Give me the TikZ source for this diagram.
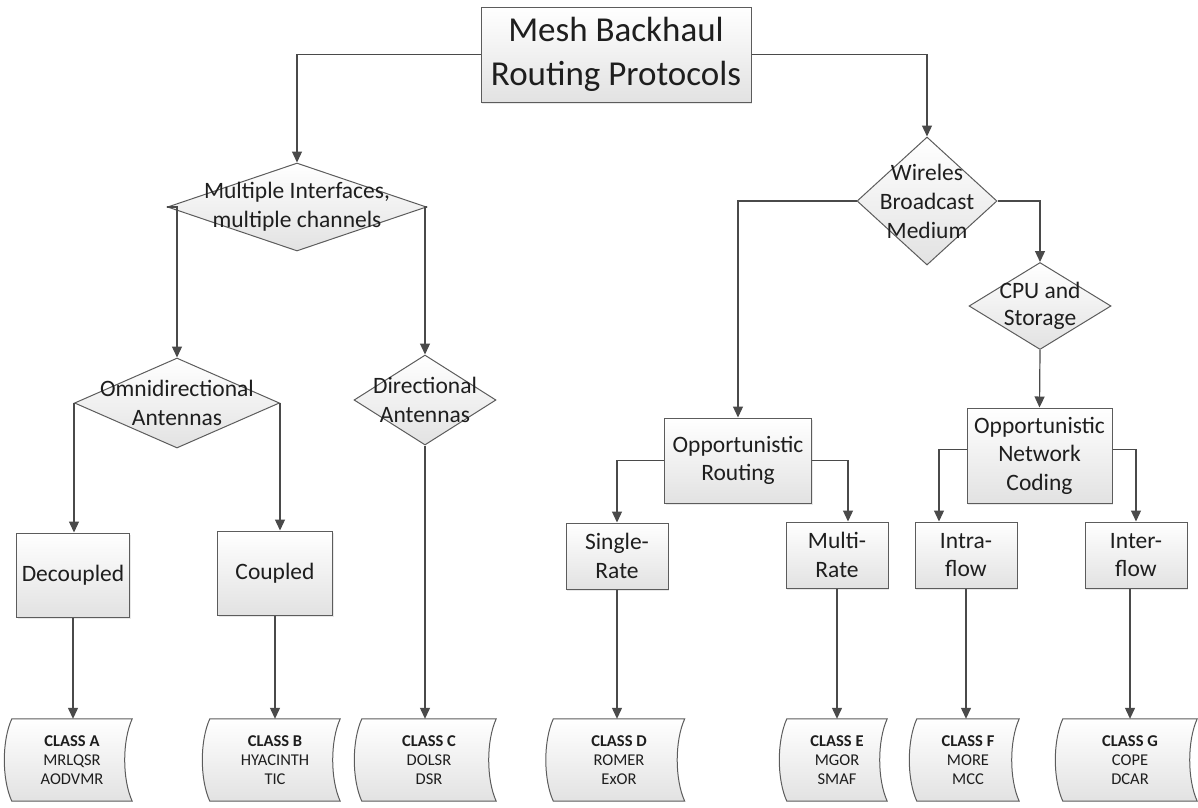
\documentclass[tikz,border=0pt]{standalone}
\usepackage{fontspec}
\setmainfont{Carlito}
\usetikzlibrary{arrows.meta,shapes.geometric,shadows}
\pgfdeclarelayer{background}
\pgfsetlayers{background,main}

\definecolor{edge}{HTML}{5C5C5C}
\definecolor{wire}{HTML}{4A4A4A}
\definecolor{ink}{HTML}{1E1E1E}
\definecolor{shadeb}{HTML}{E2E2E2}

\tikzset{
  base/.style={draw=edge, line width=1pt, top color=white, bottom color=shadeb},
  procbox/.style={base, rectangle, inner sep=0pt, align=center, text=ink,
    font=\fontsize{23.5}{28.5}\selectfont,
    drop shadow={opacity=0.18, shadow xshift=1pt, shadow yshift=-1.5pt}},
  decision/.style={base, diamond, inner sep=0pt},
  dlabel/.style={align=center, inner sep=0pt, text=ink,
    font=\fontsize{23.5}{29}\selectfont},
  store/.style={rectangle, inner sep=0pt, align=center, text=ink,
    minimum height=82pt, font=\fontsize{16.5}{18.7}\selectfont},
  storeline/.style={draw=edge, line width=1pt, top color=white, bottom color=shadeb},
  link/.style={draw=wire, line width=1.2pt, -{Triangle[length=11pt,width=10pt]}},
}

% outline of a "stored data" symbol around a named node
\newcommand\storedoutline[1]{%
  \begin{pgfonlayer}{background}
    \path[storeline] (#1.north west) .. controls +(-10,22) and +(-10,-22) .. (#1.south west)
      -- (#1.south east) .. controls +(-10,-22) and +(-10,22) .. (#1.north east) -- cycle;
  \end{pgfonlayer}}

\begin{document}
\begin{tikzpicture}[x=1pt,y=-1pt]
\useasboundingbox (0,0) rectangle (1198,807);

% root
\node[procbox, minimum width=270pt, minimum height=95pt,
      font=\fontsize{35}{44}\selectfont] (root) at (616,54.5)
      {Mesh Backhaul\\Routing Protocols};

% decisions
\node[decision, minimum width=259pt, minimum height=88pt] (mimc) at (297,207) {};
\node[dlabel] (mimc-t) at (mimc) {Multiple Interfaces,\\multiple channels};

\node[decision, minimum width=140pt, minimum height=128pt] (wbm) at (927,201) {};
\node[dlabel] (wbm-t) at (wbm) {Wireles\\Broadcast\\Medium};

\node[decision, minimum width=205pt, minimum height=90pt] (omni) at (177,403) {};
\node[dlabel] (omni-t) at (omni) {Omnidirectional\\Antennas};

\node[decision, minimum width=142pt, minimum height=90pt] (dir) at (425,400) {};
\node[dlabel] (dir-t) at (dir) {Directional\\Antennas};

\node[decision, minimum width=142pt, minimum height=87pt] (cpu) at (1040,306) {};
\node[dlabel, font=\fontsize{23.5}{27.5}\selectfont] (cpu-t) at (cpu) {CPU and\\Storage};

% process boxes
\node[procbox, minimum width=147pt, minimum height=85pt] (orr) at (738,460.5)
      {Opportunistic\\Routing};
\node[procbox, minimum width=145pt, minimum height=95pt] (onc) at (1039.5,455.5)
      {Opportunistic\\Network\\Coding};

\node[procbox, minimum width=113pt, minimum height=84pt] (dec) at (73,575) {Decoupled};
\node[procbox, minimum width=115pt, minimum height=84pt] (cpl) at (275,573) {Coupled};

\node[procbox, minimum width=102pt, minimum height=66pt] (sr) at (617,556) {Single-\\Rate};
\node[procbox, minimum width=102pt, minimum height=66pt] (mr) at (837,555) {Multi-\\Rate};
\node[procbox, minimum width=102pt, minimum height=66pt] (intra) at (966,555) {Intra-\\flow};
\node[procbox, minimum width=102pt, minimum height=66pt] (inter) at (1136,555) {Inter-\\flow};

% protocol classes
\node[store, minimum width=120pt] (cA) at (72,760)   {\textbf{CLASS A}\\MRLQSR\\AODVMR};
\node[store, minimum width=130pt] (cB) at (275,760)  {\textbf{CLASS B}\\HYACINTH\\TIC};
\node[store, minimum width=134pt] (cC) at (429,760)  {\textbf{CLASS C}\\DOLSR\\DSR};
\node[store, minimum width=131pt] (cD) at (619,760)  {\textbf{CLASS D}\\ROMER\\ExOR};
\node[store, minimum width=100pt] (cE) at (837,760)  {\textbf{CLASS E}\\MGOR\\SMAF};
\node[store, minimum width=102pt] (cF) at (968,760)  {\textbf{CLASS F}\\MORE\\MCC};
\node[store, minimum width=134pt] (cG) at (1130,760) {\textbf{CLASS G}\\COPE\\DCAR};
\storedoutline{cA}
\storedoutline{cB}
\storedoutline{cC}
\storedoutline{cD}
\storedoutline{cE}
\storedoutline{cF}
\storedoutline{cG}

% connectors
\draw[link] (root.west) -| (mimc.north);
\draw[link] (root.east) -| (wbm.north);
\draw[link] (mimc.west) -| (omni.north);
\draw[link] (mimc.east) -| (dir.north);
\draw[link] (omni.west) -- (omni.west |- dec.north);
\draw[link] (omni.east) -- (omni.east |- cpl.north);
\draw[link] (dir.south) -- (dir.south |- cC.north);
\draw[link] (wbm.west) -| (orr.north);
\draw[link] (wbm.east) -| (cpu.north);
\draw[link] (cpu.south) -- (onc.north);
\draw[link] (orr.west) -| (sr.north);
\draw[link] (orr.east) -| ([xshift=11pt]mr.north);
\draw[link] ([yshift=6pt]onc.west) -| ([xshift=-27pt]intra.north);
\draw[link] ([yshift=6pt]onc.east) -| (inter.north);

\draw[link] (dec.south) -- (dec.south |- cA.north);
\draw[link] (cpl.south) -- (cpl.south |- cB.north);
\draw[link] (sr.south) -- (sr.south |- cD.north);
\draw[link] (mr.south) -- (mr.south |- cE.north);
\draw[link] (intra.south) -- (intra.south |- cF.north);
\draw[link] (inter.south -| cG.north) -- (cG.north);
\end{tikzpicture}
\end{document}
